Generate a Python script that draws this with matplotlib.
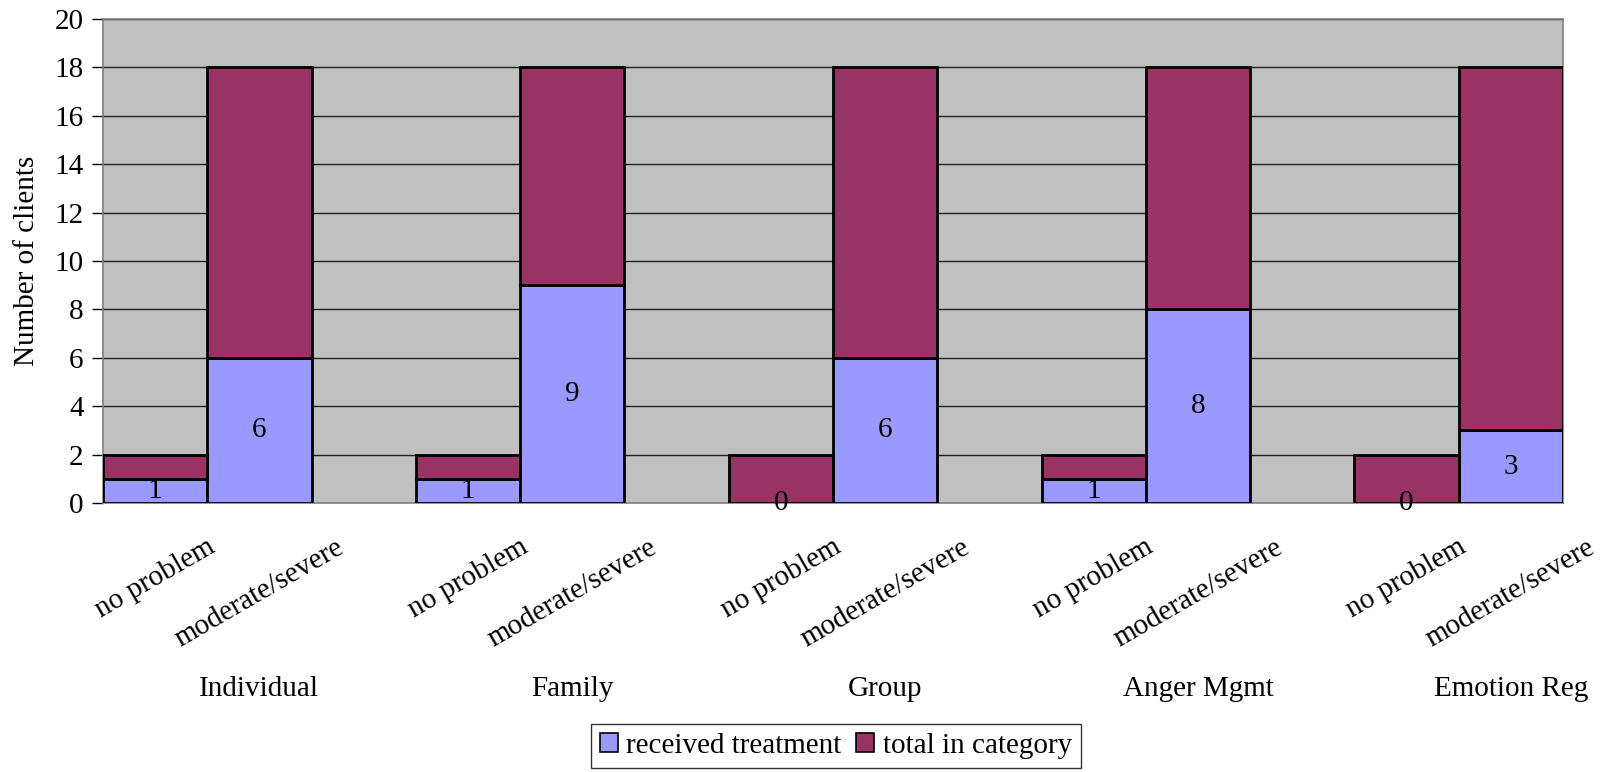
import matplotlib
matplotlib.use("Agg")
import matplotlib.pyplot as plt
import matplotlib.transforms as mtrans
from matplotlib.patches import Patch

plt.rcParams['font.family'] = ['Liberation Serif', 'DejaVu Serif']

groups = ["Individual", "Family", "Group", "Anger Mgmt", "Emotion Reg"]
levels = ["no problem", "moderate/severe"]
# per group: [no problem, moderate/severe]
received = [[1, 6], [1, 9], [0, 6], [1, 8], [0, 3]]
totals = [[2, 18], [2, 18], [2, 18], [2, 18], [2, 18]]
yticks = [0, 2, 4, 6, 8, 10, 12, 14, 16, 18, 20]

c_recv = "#9999FF"
c_tot = "#993366"
FS = 21

fig = plt.figure(figsize=(16.03, 7.72), dpi=100)
ax = fig.add_axes([103/1603, 1-503/772, 1460/1603, 484/772])
ax.set_facecolor("#C0C0C0")

xs, rec, rest, labs = [], [], [], []
for g in range(len(groups)):
    for k in range(len(levels)):
        xs.append(3*g + k)
        rec.append(received[g][k])
        rest.append(totals[g][k] - received[g][k])
        labs.append(levels[k])

ax.bar(xs, rec, width=1.0, color=c_recv, edgecolor="black", linewidth=2, zorder=3)
ax.bar(xs, rest, bottom=rec, width=1.0, color=c_tot, edgecolor="black", linewidth=2, zorder=3)

for x, r in zip(xs, rec):
    ax.text(x, r/2, str(r), ha="center", va="center", fontsize=FS, zorder=4)

ax.set_xlim(-0.5, 3*len(groups) - 1 - 0.5)
ax.set_ylim(0, 20)
ax.set_yticks(yticks)
ax.set_yticklabels([str(t) for t in yticks], fontsize=FS)
ax.yaxis.grid(True, color="#202020", linewidth=1.0, zorder=1)
ax.set_axisbelow(True)
ax.tick_params(axis="y", length=8, width=1, color="black", pad=6, direction="out")
ax.set_xticks([])
for s in ["top", "right", "bottom", "left"]:
    ax.spines[s].set_color("#808080")
    ax.spines[s].set_linewidth(1.2)

ax.set_ylabel("Number of clients", fontsize=FS, labelpad=10)

tr = mtrans.blended_transform_factory(ax.transData, fig.transFigure)
for x, l in zip(xs, labs):
    ax.text(x, 1-534/772, l, rotation=30, ha="center", va="top",
            fontsize=FS, transform=tr, clip_on=False)
for g, name in enumerate(groups):
    ax.text(3*g + 1, 1-689/772, name, ha="center", va="center",
            fontsize=FS, transform=tr, clip_on=False)

handles = [Patch(facecolor=c_recv, edgecolor="black", linewidth=1.2, label="received treatment"),
           Patch(facecolor=c_tot, edgecolor="black", linewidth=1.2, label="total in category")]
leg = fig.legend(handles=handles, loc="center", bbox_to_anchor=(836/1603, 1-746/772),
                 ncol=2, fontsize=FS, frameon=True, fancybox=False, shadow=False,
                 handlelength=0.6, handleheight=0.6, handletextpad=0.3,
                 columnspacing=0.5, borderpad=0.3, borderaxespad=0)
leg.get_frame().set_edgecolor("black")
leg.get_frame().set_linewidth(1.0)

fig.savefig("out.png", dpi=100)
